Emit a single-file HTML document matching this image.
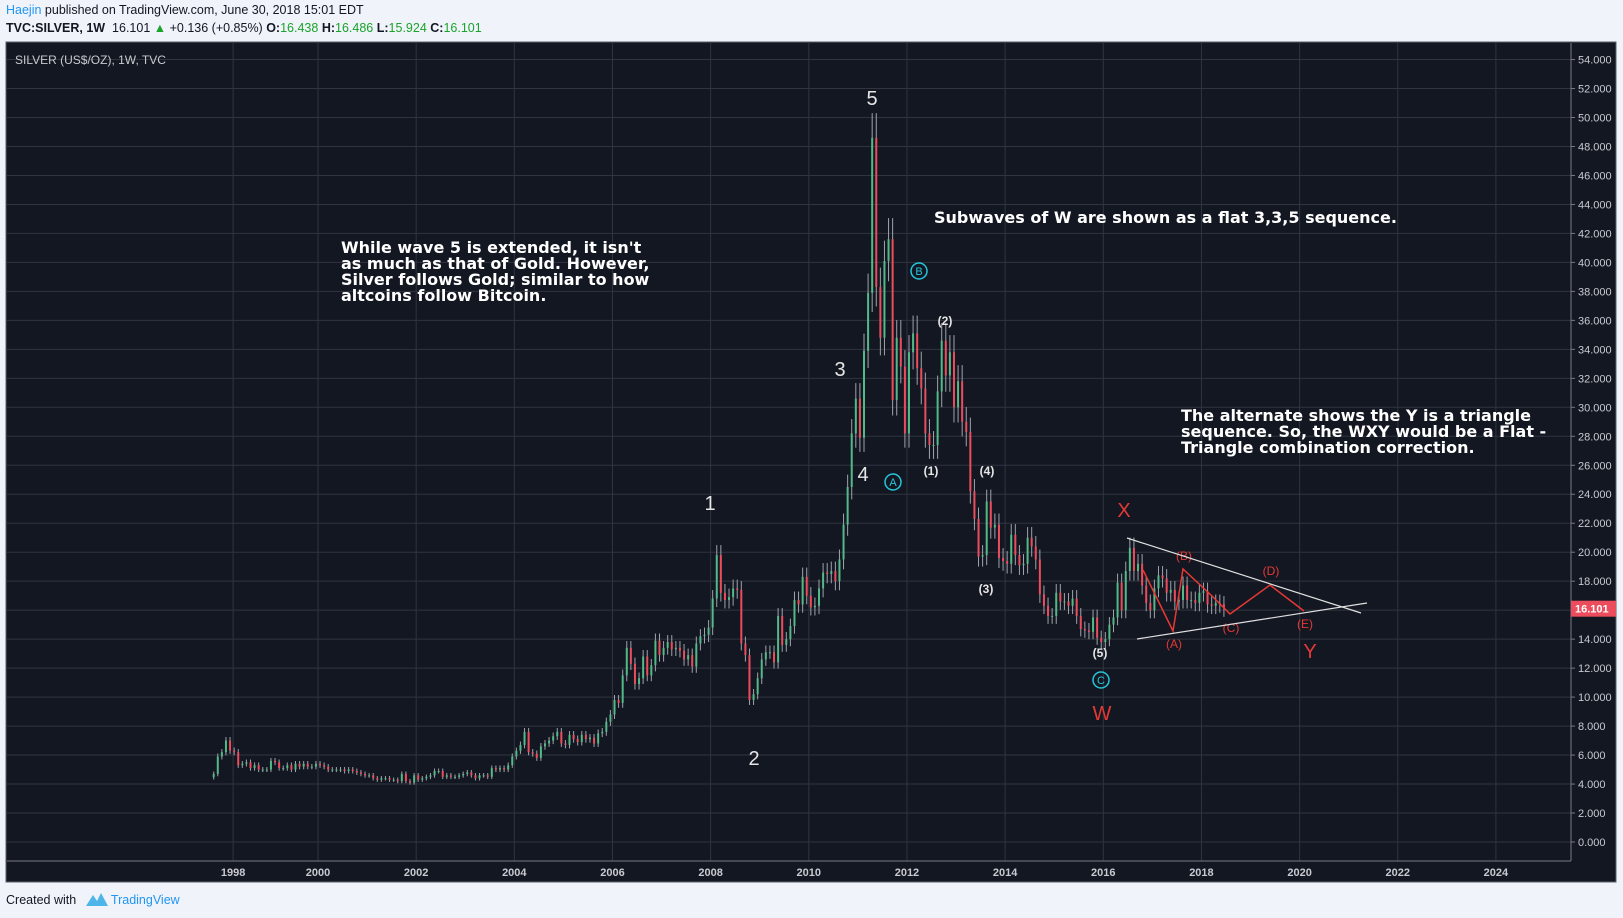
<!DOCTYPE html>
<html><head><meta charset="utf-8"><style>
html,body{margin:0;padding:0;background:#f0f3fa;width:1623px;height:918px;overflow:hidden;font-family:"Liberation Sans",sans-serif}
.hdr{position:absolute;left:6px;font-size:12.5px;color:#131722}
</style></head><body>
<div class="hdr" style="top:3px"><span style="color:#2196f3">Haejin</span> published on TradingView.com, June 30, 2018 15:01 EDT</div>
<div class="hdr" style="top:21px"><b>TVC:SILVER, 1W</b>&nbsp; 16.101 <span style="color:#1aa32a">▲</span> +0.136 (+0.85%) <b>O:</b><span style="color:#1aa32a">16.438</span> <b>H:</b><span style="color:#1aa32a">16.486</span> <b>L:</b><span style="color:#1aa32a">15.924</span> <b>C:</b><span style="color:#1aa32a">16.101</span></div>
<svg id="chart" width="1623" height="918" style="position:absolute;left:0;top:0" xmlns="http://www.w3.org/2000/svg">
<rect x="6" y="42" width="1610" height="840" fill="#131722" stroke="#5d606b" stroke-width="1"/>
<g id="grid"></g><g id="candles"></g><g id="axes"></g><g id="ann"></g>
</svg>
<div style="position:absolute;left:6px;top:892px;font-size:12.5px;color:#131722">Created with <span style="color:#2196f3;margin-left:6px"><svg width="22" height="14" viewBox="0 0 22 14" style="vertical-align:-2px"><path d="M0 14 L7 3 L11 9 L15 1 L22 14 Z" fill="#4db5e8"/></svg> TradingView</span></div>
<script>
const yearLabels=["1998","2000","2002","2004","2006","2008","2010","2012","2014","2016","2018","2020","2022","2024"];
const yearValues=[1998.27,2000,2002,2004,2006,2008,2010,2012,2014,2016,2018,2020,2022,2024];
const priceTicks=[0,2,4,6,8,10,12,14,16,18,20,22,24,26,28,30,32,34,36,38,40,42,44,46,48,50,52,54];
const startTime=1997.833;
const closes=[
4.7,5.9,
6.2,7.0,6.3,6.2,5.3,5.4,5.5,5.1,5.3,5.0,5.0,5.0,
5.6,5.5,5.1,5.1,5.3,5.0,5.4,5.2,5.4,5.2,5.2,5.4,
5.3,5.2,5.0,5.0,5.0,5.0,4.9,5.0,4.9,4.8,4.7,4.6,
4.6,4.4,4.3,4.4,4.4,4.3,4.3,4.2,4.7,4.2,4.1,4.6,
4.3,4.4,4.5,4.6,4.9,4.9,4.5,4.6,4.5,4.5,4.6,4.7,
4.8,4.6,4.4,4.6,4.6,4.5,5.1,5.0,5.1,5.0,5.3,5.9,
6.3,6.7,7.6,6.2,6.1,5.8,6.6,6.8,7.0,7.3,7.6,6.8,
6.7,7.4,7.1,6.9,7.4,7.1,7.2,6.8,7.5,7.6,8.3,8.8,
9.8,9.6,11.5,13.4,12.3,10.9,11.3,12.8,11.5,12.2,13.9,12.9,
13.4,13.8,13.3,13.4,13.2,12.6,12.9,12.1,13.7,14.2,14.3,14.8,
16.8,19.8,17.2,16.7,16.9,17.5,17.4,13.7,12.9,9.8,10.2,11.3,
12.6,13.1,13.1,12.4,15.6,13.6,14.0,14.9,16.7,16.4,18.3,17.0,
16.2,16.3,17.5,18.6,18.5,18.7,18.0,19.5,21.9,24.5,28.2,30.6,
27.9,33.9,37.9,48.6,38.3,34.8,40.1,41.6,30.5,34.8,32.8,28.2,
33.8,35.1,32.7,31.3,28.2,27.4,27.4,31.1,34.6,32.2,33.8,30.0,
31.8,29.0,28.3,24.2,22.3,19.7,19.8,23.5,21.7,21.9,19.6,19.4,
19.2,21.2,19.8,19.1,19.2,21.0,20.4,19.5,17.1,16.3,15.6,15.6,
17.2,16.6,16.6,16.3,16.8,15.6,14.7,14.6,14.5,15.5,14.1,13.8,
14.0,15.0,15.5,17.9,16.0,18.7,20.3,18.7,19.2,17.7,16.5,16.0,
17.5,18.4,18.2,17.2,17.4,16.6,16.7,17.7,16.7,16.7,16.5,17.2,
17.3,16.4,16.3,16.5,16.4,16.1];
const lastPrice=16.101;

const NS="http://www.w3.org/2000/svg";
const X=t=>318+(t-2000)*49.08;
const Y=p=>842-p*14.49;
function mk(parent,tag,attrs){const e=document.createElementNS(NS,tag);for(const k in attrs)e.setAttribute(k,attrs[k]);document.getElementById(parent).appendChild(e);return e;}

yearValues.forEach((v,i)=>{
  const l=mk('grid','line',{x1:X(v),x2:X(v),y1:43,y2:861,stroke:'#30343f','stroke-width':1});
  
  
  const t=mk('axes','text',{x:X(v),y:876,fill:'#c8cad0','font-size':11,'text-anchor':'middle','font-family':'Liberation Sans, sans-serif','font-weight':'bold'});
  t.textContent=yearLabels[i];
  
  
});
priceTicks.forEach(p=>{
  const l=mk('grid','line',{x1:7,x2:1571,y1:Y(p),y2:Y(p),stroke:'#30343f','stroke-width':1});
  
  
  mk('axes','line',{x1:1571,x2:1575,y1:Y(p),y2:Y(p),stroke:'#787b86'});
  const t=mk('axes','text',{x:1578,y:Y(p)+4,fill:'#c8cad0','font-size':11,'font-family':'Liberation Sans, sans-serif'});
  t.textContent=p.toFixed(3);
  
  
});
let a=mk('axes','line',{x1:1571,x2:1571,y1:43,y2:861,stroke:'#787b86'});

a=mk('axes','line',{x1:7,x2:1571,y1:861,y2:861,stroke:'#787b86'});


closes.forEach((c,i)=>{
  const o=i===0?c*0.95:closes[i-1];
  const t=startTime+i/12+1/24;
  const x=X(t);
  const up=c>=o;
  const hi=Math.max(o,c)*1.035, lo=Math.min(o,c)*0.965;
  const col=up?'#53b987':'#eb4d5c';
  const w=mk('candles','line',{x1:x,x2:x,y1:Y(hi),y2:Y(lo),stroke:'#a0a3ab','stroke-width':1});
  
  
  const top=Y(Math.max(o,c)),bot=Y(Math.min(o,c));
  const r=mk('candles','rect',{x:x-1,y:top,width:2,height:Math.max(1,bot-top),fill:col});
  
  
});
const pl=mk('axes','rect',{x:1571,y:Y(lastPrice)-8,width:45,height:16,fill:'#eb4d5c'});

const pt=mk('axes','text',{x:1575,y:Y(lastPrice)+4,fill:'#fff','font-size':11,'font-weight':'bold','font-family':'Liberation Sans, sans-serif'});
pt.textContent=lastPrice.toFixed(3);


function txt(x,y,s,fill,size,name,anchor,bold,family){const t=mk('ann','text',{x:x,y:y,fill:fill,'font-size':size,'text-anchor':anchor||'middle','font-weight':bold?'bold':'normal','font-family':family||'Liberation Sans, sans-serif'});t.textContent=s;

return t;}
const W='#e6e6e6', R='#e53935', C='#26c6da';
txt(15,64,'SILVER (US$/OZ), 1W, TVC','#c8cad0',12,'chart-title','start');
txt(872,105,'5',W,20,'wave-5-label');
txt(840,376,'3',W,20,'wave-3-label');
txt(863,481,'4',W,20,'wave-4-label');
txt(710,510,'1',W,20,'wave-1-label');
txt(754,765,'2',W,20,'wave-2-label');
[['A',893,482],['B',919,271],['C',1101,680]].forEach(([s,x,y])=>{
  const c=mk('ann','circle',{cx:x,cy:y,r:8,fill:'none',stroke:C,'stroke-width':1.5});
  
  
  txt(x,y+4,s,C,11,'wave-'+s.toLowerCase()+'-label');
});
[['(1)',931,475],['(2)',945,325],['(3)',986,593],['(4)',987,475],['(5)',1100,657]].forEach(([s,x,y])=>txt(x,y,s,W,12,'subwave-label',null,true));
txt(1124,517,'X',R,20,'wave-x-label');
txt(1102,720,'W',R,20,'wave-w-label');
txt(1310,658,'Y',R,20,'wave-y-label');
[['(A)',1174,648],['(B)',1184,560],['(C)',1231,632],['(D)',1271,575],['(E)',1305,628]].forEach(([s,x,y])=>txt(x,y,s,R,12,'triangle-label'));
let ln=mk('ann','polyline',{points:'1143,570 1173,631 1183,569 1212,596 1230,614 1270,585 1304,611',fill:'none',stroke:R,'stroke-width':1.5});

ln=mk('ann','line',{x1:1127,y1:538,x2:1361,y2:613,stroke:'#e0e0e0','stroke-width':1.2});

ln=mk('ann','line',{x1:1137,y1:639,x2:1367,y2:603,stroke:'#e0e0e0','stroke-width':1.2});

const note=(x,y,lines,name)=>lines.forEach((s,i)=>txt(x,y+i*16,s,'#fff',16,name,'start',true,'DejaVu Sans, sans-serif'));
note(341,253,["While wave 5 is extended, it isn't","as much as that of Gold. However,","Silver follows Gold; similar to how","altcoins follow Bitcoin."],'note-wave5');
note(934,223,["Subwaves of W are shown as a flat 3,3,5 sequence."],'note-subwaves');
note(1181,421,["The alternate shows the Y is a triangle","sequence. So, the WXY would be a Flat -","Triangle combination correction."],'note-alternate');
</script>
</body></html>
